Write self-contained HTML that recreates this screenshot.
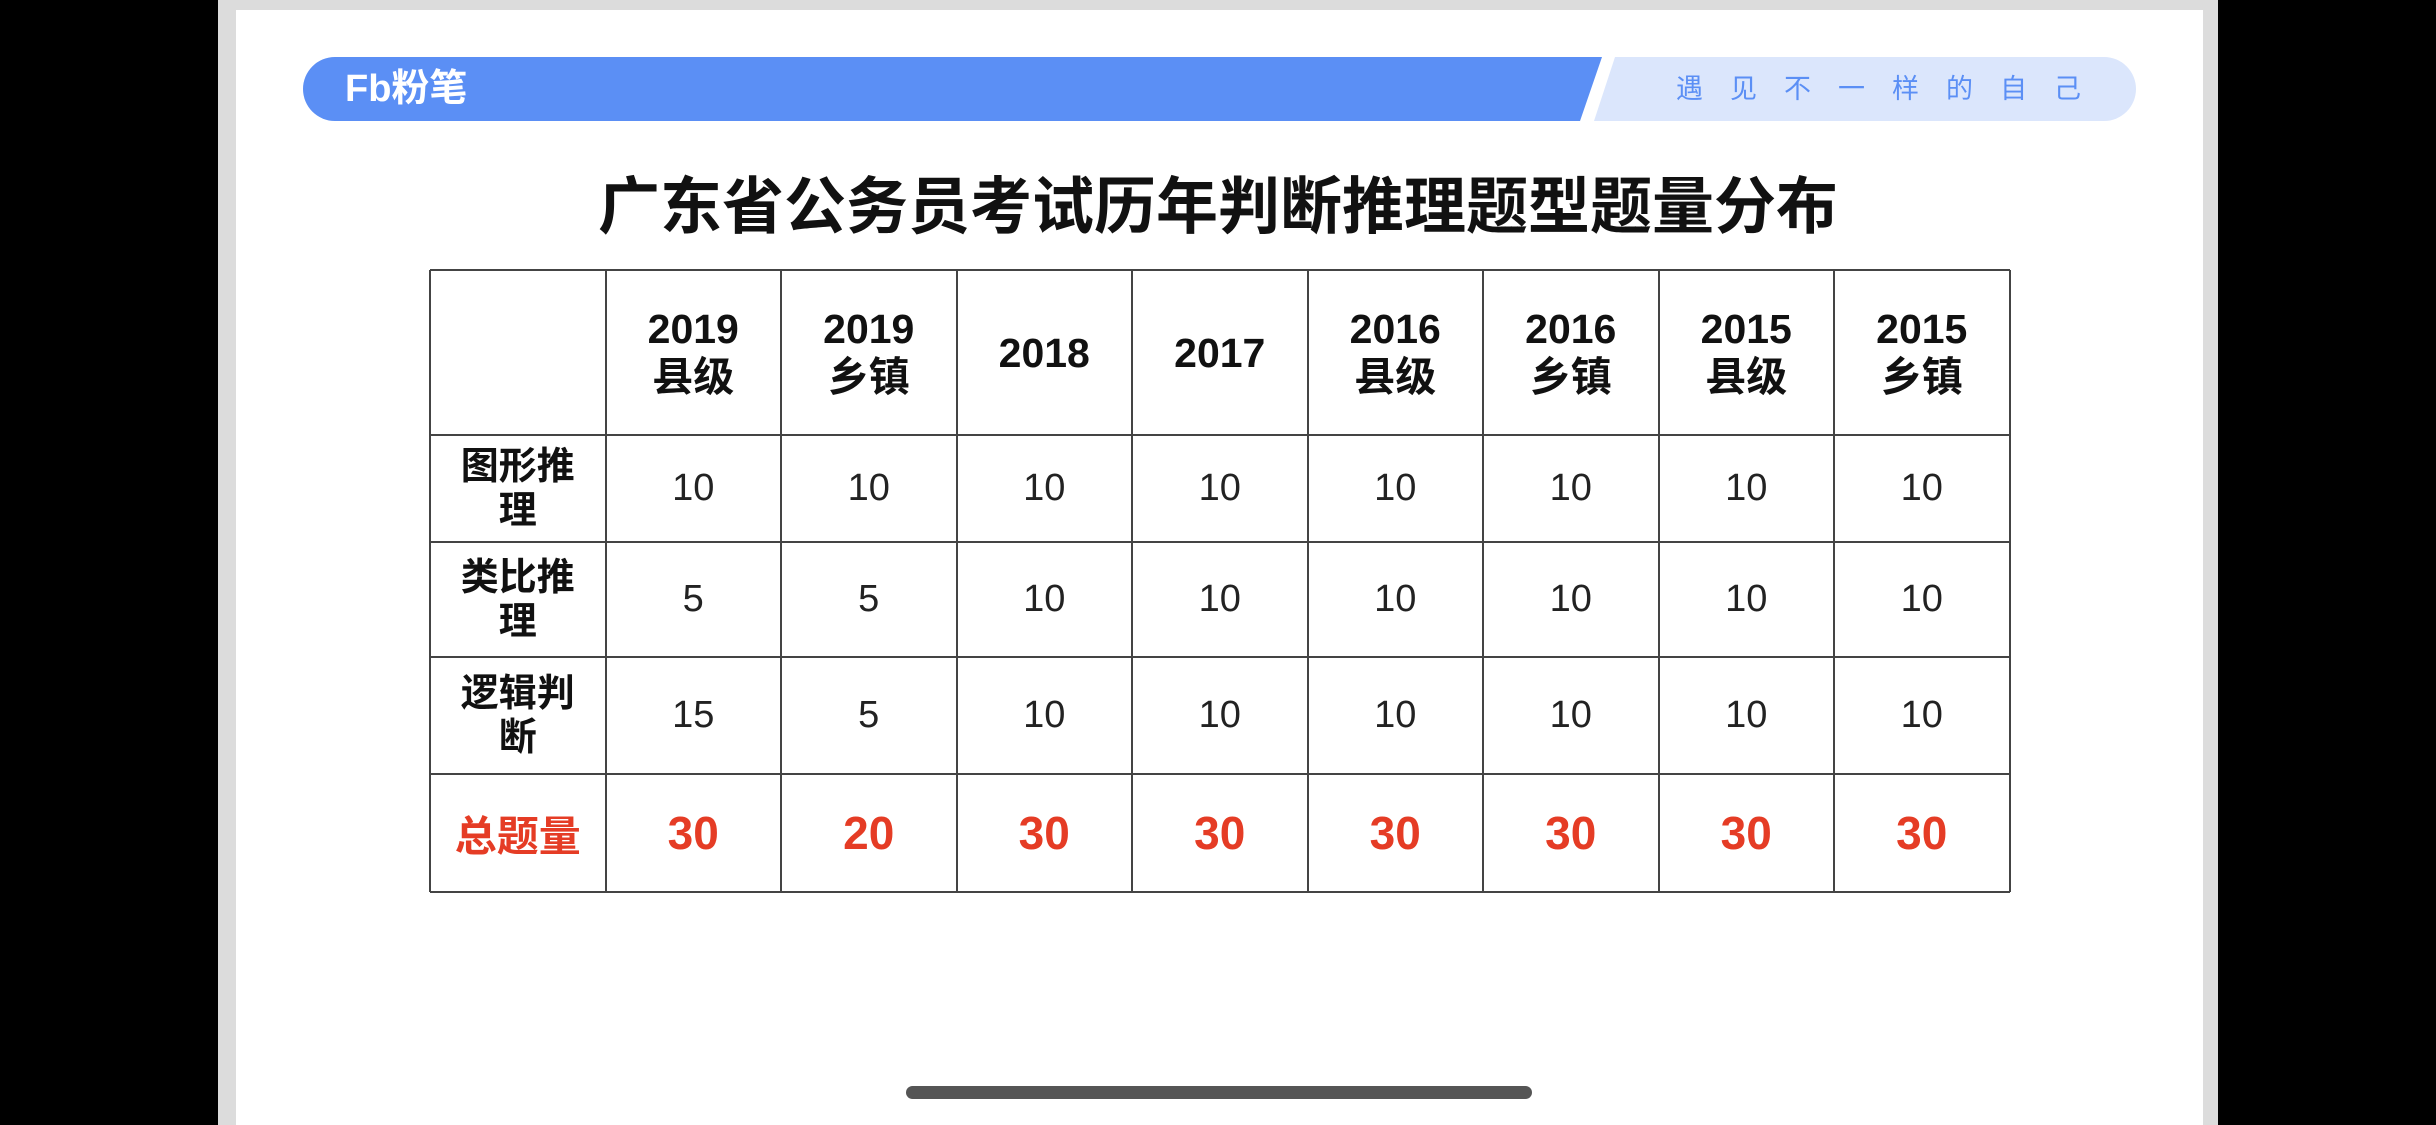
<!DOCTYPE html>
<html><head><meta charset="utf-8">
<style>
html,body{margin:0;padding:0;}
body{width:2436px;height:1125px;background:#000;position:relative;overflow:hidden;font-family:"Liberation Sans","Noto Sans CJK SC",sans-serif;}
.abs{position:absolute;}
.cell{position:absolute;display:flex;align-items:center;justify-content:center;text-align:center;box-sizing:border-box;}
</style></head>
<body>
<div class="abs" style="left:218px;top:0;width:2000px;height:1125px;background:#dcdcdc;"></div>
<div class="abs" style="left:236px;top:10px;width:1967px;height:1115px;background:#fff;"></div>
<svg class="abs" style="left:0;top:0" width="2436" height="200">
<path d="M335 57 L1602 57 L1580 121 L335 121 A32 32 0 0 1 335 57 Z" fill="#5b8ff5"/>
<path d="M1615 57 L2104 57 A32 32 0 0 1 2104 121 L1594 121 Z" fill="#dbe6fc"/>
</svg>
<div class="abs" style="left:345px;top:68px;font-size:38px;font-weight:bold;color:#fff;line-height:42px;">Fb粉笔</div>
<div class="abs" style="left:1676px;top:74px;font-size:27px;color:#5b8ff5;letter-spacing:27px;line-height:30px;">遇见不一样的自己</div>
<div class="abs" style="left:0;width:2436px;top:172px;text-align:center;font-size:62px;font-weight:bold;color:#111;line-height:72px;">广东省公务员考试历年判断推理题型题量分布</div>
<div id="table"></div>
<div class="abs" style="left:906px;top:1086px;width:626px;height:13px;border-radius:7px;background:#555;"></div>
<script>
const columns=["2019\n县级","2019\n乡镇","2018","2017","2016\n县级","2016\n乡镇","2015\n县级","2015\n乡镇"];
const rowLabels=["图形推\n理","类比推\n理","逻辑判\n断"];
const figureVals=[10,10,10,10,10,10,10,10];
const analogyVals=[5,5,10,10,10,10,10,10];
const logicVals=[15,5,10,10,10,10,10,10];
const totals=[30,20,30,30,30,30,30,30];
const series=[figureVals,analogyVals,logicVals];
const X0=430,CW=175.5,NC=9;
const rowY=[270,435,542,657,774,892];
const t=document.getElementById('table');
function cell(x,y,w,h,txt,style,name){
 const d=document.createElement('div');
 d.className='cell';
 d.style.cssText=`left:${x}px;top:${y}px;width:${w}px;height:${h}px;`+style;
 d.innerHTML=String(txt).replace('\n','<br>');
 
 
 t.appendChild(d);
}
const W=CW*NC;
for(let i=0;i<=NC;i++){
 const l=document.createElement('div');l.className='abs';
 l.style.cssText=`left:${X0+i*CW-1}px;top:${rowY[0]}px;width:2px;height:${rowY[5]-rowY[0]}px;background:#444;`;
 
 
 t.appendChild(l);
}
rowY.forEach(y=>{
 const l=document.createElement('div');l.className='abs';
 l.style.cssText=`left:${X0}px;top:${y-1}px;width:${W}px;height:2px;background:#444;`;
 
 
 t.appendChild(l);
});
columns.forEach((c,i)=>cell(X0+(i+1)*CW,rowY[0],CW,rowY[1]-rowY[0],c,'font-size:41px;font-weight:bold;color:#111;line-height:48px;','column-header'));
rowLabels.forEach((r,j)=>{
 const h=rowY[j+2]-rowY[j+1];
 cell(X0,rowY[j+1],CW,h,r,'font-size:38px;font-weight:bold;color:#111;line-height:44px;','row-label');
 series[j].forEach((v,i)=>cell(X0+(i+1)*CW,rowY[j+1],CW,h,v,'font-size:38px;color:#222;','value-cell'));
});
const th=rowY[5]-rowY[4];
cell(X0,rowY[4],CW,th,'总题量','font-size:42px;font-weight:bold;color:#e53c25;','total-label');
totals.forEach((v,i)=>cell(X0+(i+1)*CW,rowY[4],CW,th,v,'font-size:46px;font-weight:bold;color:#e53c25;','total-cell'));
</script>
</body></html>
